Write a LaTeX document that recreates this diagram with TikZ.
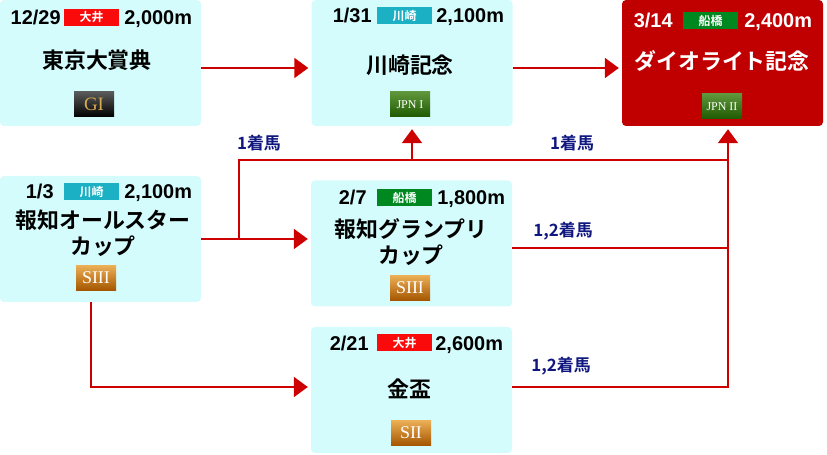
\documentclass[tikz,border=0pt]{standalone}
\usepackage{fontspec}
\setmainfont{Noto Sans CJK JP}[BoldFont={Noto Sans CJK JP Bold}]
\newfontfamily\gradefont{Liberation Serif}
\newfontfamily\numfont{Liberation Sans}
\usetikzlibrary{arrows.meta,shadings}
\definecolor{boxcyan}{RGB}{212,252,252}
\definecolor{boxred}{RGB}{192,0,0}
\definecolor{linered}{RGB}{204,0,0}
\definecolor{navy}{RGB}{16,24,128}
\definecolor{ooi}{RGB}{250,10,10}
\definecolor{kawasaki}{RGB}{28,176,196}
\definecolor{funabashi}{RGB}{0,136,32}
\definecolor{gold}{RGB}{214,170,80}
\tikzset{
  race/.style={fill=boxcyan, rounded corners=4bp, minimum width=201bp, minimum height=126bp, inner sep=0},
  venue/.style={fill=#1, text=white, minimum width=55bp, minimum height=17bp, inner sep=0, font=\bfseries\fontsize{12}{12}\selectfont},
  racedate/.style={anchor=base east, inner sep=0, font=\numfont\bfseries\fontsize{20}{20}\selectfont},
  racedist/.style={anchor=base west, inner sep=0, font=\numfont\bfseries\fontsize{20}{20}\selectfont},
  racetitle/.style={align=center, inner sep=0, font=\bfseries\fontsize{22}{26}\selectfont},
  grade/.style={minimum width=40bp, minimum height=25bp, inner sep=0, text=white, font=\gradefont\fontsize{18}{18}\selectfont},
  gradeG/.style={grade, top color=black!65, bottom color=black, text=gold, font=\gradefont\fontsize{19}{19}\selectfont},
  gradeJ/.style={grade, top color={rgb,255:red,95;green,150;blue,60}, bottom color={rgb,255:red,30;green,90;blue,0}, font=\gradefont\fontsize{12}{12}\selectfont},
  gradeS/.style={grade, top color={rgb,255:red,235;green,175;blue,85}, bottom color={rgb,255:red,165;green,85;blue,0}},
  link/.style={linered, line width=2bp},
  arr/.style={link, -{Triangle[length=14bp,width=20bp]}, shorten >=3bp},
  finish/.style={text=navy, inner sep=0, font=\bfseries\fontsize{17}{17}\selectfont},
}
\begin{document}
\begin{tikzpicture}[x=1bp,y=-1bp]
  \useasboundingbox (0,0) rectangle (827,455);
  % races
  \node[race] (b1) at (100.5,63) {};
  \node[race] (b2) at (412,63) {};
  \node[race, fill=boxred] (b3) at (722.5,63) {};
  \node[race] (b4) at (100.5,239) {};
  \node[race] (b5) at (411.5,243.5) {};
  \node[race] (b6) at (411.5,390) {};
  % headers
  \node[venue=ooi] (v1) at (91.5,17.5) {大井};
  \node[racedate] (d1) at ([xshift=-3bp,yshift=-7bp]v1.west) {12/29};
  \node[racedist] (m1) at ([xshift=5bp,yshift=-7bp]v1.east) {2,000m};
  \node[venue=kawasaki] (v2) at (404.5,16) {川崎};
  \node[racedate] (d2) at ([xshift=-5bp,yshift=-7bp]v2.west) {1/31};
  \node[racedist] (m2) at ([xshift=4bp,yshift=-7bp]v2.east) {2,100m};
  \node[venue=funabashi] (v3) at (710.5,21) {船橋};
  \node[racedate, text=white] (d3) at ([xshift=-10bp,yshift=-7bp]v3.west) {3/14};
  \node[racedist, text=white] (m3) at ([xshift=6bp,yshift=-7bp]v3.east) {2,400m};
  \node[venue=kawasaki] (v4) at (91.5,192) {川崎};
  \node[racedate] (d4) at ([xshift=-10bp,yshift=-7bp]v4.west) {1/3};
  \node[racedist] (m4) at ([xshift=5bp,yshift=-7bp]v4.east) {2,100m};
  \node[venue=funabashi] (v5) at (404.5,198) {船橋};
  \node[racedate] (d5) at ([xshift=-10bp,yshift=-7bp]v5.west) {2/7};
  \node[racedist] (m5) at ([xshift=5bp,yshift=-7bp]v5.east) {1,800m};
  \node[venue=ooi] (v6) at (404.5,343) {大井};
  \node[racedate] (d6) at ([xshift=-8bp,yshift=-7bp]v6.west) {2/21};
  \node[racedist] (m6) at ([xshift=3bp,yshift=-7bp]v6.east) {2,600m};
  % titles
  \node[racetitle] (t1) at (97,60) {東京大賞典};
  \node[racetitle] (t2) at (410,65) {川崎記念};
  \node[racetitle, text=white] (t3) at (722,61) {ダイオライト記念};
  \node[racetitle] (t4) at (103,233) {報知オールスター\\カップ};
  \node[racetitle] (t5) at (411,242) {報知グランプリ\\カップ};
  \node[racetitle] (t6) at (409,389) {金盃};
  % grades
  \node[gradeG] (g1) at (94,104.5) {GI};
  \node[gradeJ] (g2) at (410,104.5) {JPN I};
  \node[gradeJ] (g3) at (722,106.5) {JPN II};
  \node[gradeS] (g4) at (96,278) {SIII};
  \node[gradeS] (g5) at (410,288) {SIII};
  \node[gradeS] (g6) at (411,433) {SII};
  % connectors
  \coordinate (split) at (239,239);
  \coordinate (top) at (728,160);
  \draw[arr] ([yshift=-5bp]b1.east) -- ([yshift=-5bp]b2.west);
  \draw[arr] ([yshift=-5bp]b2.east) -- ([yshift=-5bp]b3.west);
  \draw[arr] (b4.east) -- (b4.east -| b5.west);
  \draw[link] (split) |- (top);
  \draw[arr] (b2.south |- top) -- (b2.south);
  \draw[link] ([yshift=-4.5bp]b5.east) -- ([yshift=-4.5bp]b5.east -| top);
  \draw[arr] ([yshift=3bp]b6.east) -| (top |- b3.south);
  \draw[arr] ([xshift=-10bp]b4.south) |- ([yshift=3bp]b6.west);
  % labels
  \node[finish] (f1) at (259,143) {1着馬};
  \node[finish] (f2) at (572,143) {1着馬};
  \node[finish] (f3) at (563,231) {1,2着馬};
  \node[finish] (f4) at (561,366) {1,2着馬};
\end{tikzpicture}
\end{document}
